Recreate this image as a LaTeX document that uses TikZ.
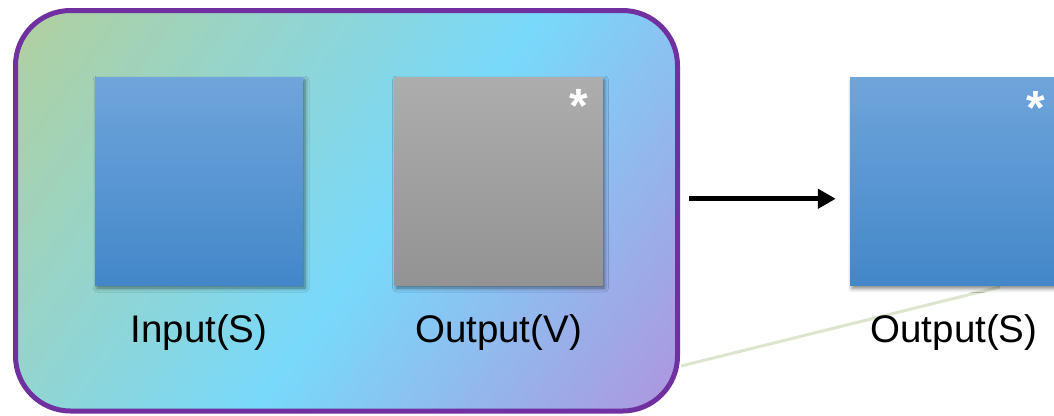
\documentclass[tikz,border=0pt]{standalone}
\usepackage{fontspec}
\setmainfont{Liberation Sans}
\usetikzlibrary{positioning,arrows.meta,shadows.blur}

\definecolor{panelline}{HTML}{7030A0}
\definecolor{panelgreen}{HTML}{B5CF98}
\definecolor{panelcyan}{HTML}{78D9FB}
\definecolor{panelpurple}{HTML}{B889DA}
\definecolor{bluetop}{HTML}{6FA5DB}
\definecolor{bluebottom}{HTML}{4387C9}
\definecolor{graytop}{HTML}{ADADAD}
\definecolor{graybottom}{HTML}{939393}
\definecolor{ghostline}{HTML}{DCE6CF}

% soft diagonal wash of the panel
\pgfdeclareverticalshading{panelwash}{100bp}{color(0bp)=(panelpurple); color(10bp)=(panelpurple);
  color(46bp)=(panelcyan); color(87bp)=(panelgreen); color(100bp)=(panelgreen)}

\begin{document}
\begin{tikzpicture}[x=1pt,y=-1pt,
    panel/.style={draw=panelline, line width=5pt, rounded corners=55pt,
      minimum width=662pt, minimum height=400.5pt, inner sep=0pt,
      shading=panelwash, shading angle=54},
    box/.style={minimum width=208pt, minimum height=208pt, inner sep=0pt,
      blur shadow={shadow xshift=2pt, shadow yshift=-3pt, shadow blur radius=4pt, shadow opacity=50}},
    bluebox/.style={box, top color=bluetop, bottom color=bluebottom},
    graybox/.style={box, top color=graytop, bottom color=graybottom},
    caption/.style={inner sep=0pt, font=\fontsize{38.5}{46}\selectfont},
    starmark/.style={anchor=base, inner sep=0pt, text=white, font=\fontsize{48}{56}\selectfont\bfseries},
    flow/.style={line width=5pt, -{Triangle[length=18pt,width=19pt]}}
  ]
  \useasboundingbox (0,0) rectangle (1054,415);

  % faint trace behind everything
  \coordinate (ghostA) at (681,366);
  \coordinate (ghostB) at (1000,287);
  \draw[ghostline, line width=3pt] (ghostA) -- (ghostB);

  \node[panel] (panel) at (346.5,210.75) {};

  \node[bluebox] (inbox) at (199,181) {};
  \node[graybox] (midbox) at (498.5,181) {};
  \node[bluebox] (outbox) at (954,181.5) {};

  \node[caption, below=29pt of inbox] (inlabel) {Input(S)};
  \node[caption, below=29pt of midbox] (midlabel) {Output(V)};
  \node[caption, below=29pt of outbox] (outlabel) {Output(S)};

  \node[starmark] (midstar) at ([shift={(-24,46)}]midbox.north east) {*};
  \node[starmark] (outstar) at ([shift={(-22,47)}]outbox.north east) {*};

  \coordinate (tail) at ([shift={(9,-12)}]panel.east);    % helper
  \draw[flow, shorten >=14pt] (tail) -- (tail -| outbox.west);
\end{tikzpicture}
\end{document}
